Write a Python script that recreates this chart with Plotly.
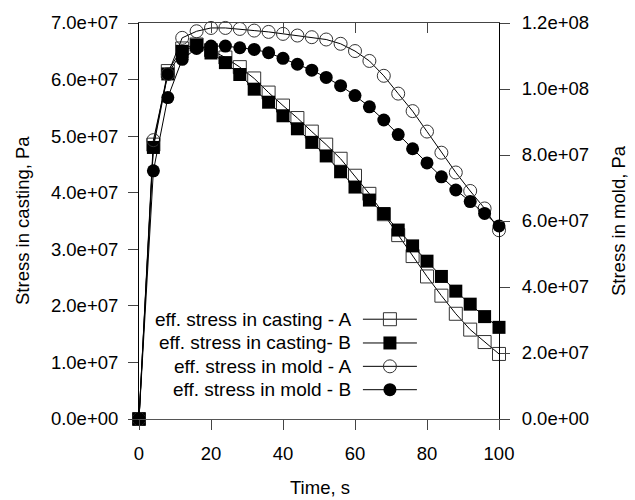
import plotly.graph_objects as go

# ---------------- data ----------------
time_s = [0, 4, 8, 12, 16, 20, 24, 28, 32, 36, 40, 44, 48, 52, 56, 60,
          64, 68, 72, 76, 80, 84, 88, 92, 96, 100]

# stresses in units of 1e7 Pa
casting_A = [0, 4.85, 6.15, 6.55, 6.62, 6.52, 6.39, 6.22, 6.02, 5.77, 5.54,
             5.32, 5.08, 4.85, 4.60, 4.30, 3.98, 3.62, 3.25, 2.88, 2.52,
             2.18, 1.86, 1.58, 1.36, 1.15]
casting_B = [0, 4.80, 6.10, 6.50, 6.61, 6.47, 6.30, 6.09, 5.83, 5.60, 5.36,
             5.13, 4.89, 4.65, 4.37, 4.10, 3.87, 3.63, 3.34, 3.06, 2.79,
             2.52, 2.26, 2.03, 1.81, 1.62]
mold_A = [0, 8.45, 10.45, 11.55, 11.75, 11.85, 11.85, 11.82, 11.77, 11.73,
          11.67, 11.62, 11.57, 11.50, 11.37, 11.15, 10.85, 10.40, 9.86, 9.33,
          8.71, 8.07, 7.47, 6.91, 6.38, 5.72]
mold_B = [0, 7.52, 9.74, 10.90, 11.23, 11.30, 11.30, 11.25, 11.20, 11.10,
          10.93, 10.75, 10.57, 10.35, 10.10, 9.80, 9.46, 9.06, 8.62, 8.19,
          7.76, 7.34, 6.94, 6.59, 6.23, 5.85]
SCALE = 1e7

series_names = ["eff. stress in casting - A", "eff. stress in casting- B",
                "eff. stress in mold - A", "eff. stress in mold - B"]

x_ticks = [0, 20, 40, 60, 80, 100]
x_top_ticks = [20, 40, 60, 80]
left_tickvals = [0, 1e7, 2e7, 3e7, 4e7, 5e7, 6e7, 7e7]
left_ticktext = ["0.0e+00", "1.0e+07", "2.0e+07", "3.0e+07", "4.0e+07",
                 "5.0e+07", "6.0e+07", "7.0e+07"]
right_tickvals = [0, 2e7, 4e7, 6e7, 8e7, 1e8, 1.2e8]
right_ticktext = ["0.0e+00", "2.0e+07", "4.0e+07", "6.0e+07", "8.0e+07",
                  "1.0e+08", "1.2e+08"]

# ---------------- styles ----------------
FONT = "Liberation Sans, Arial, Helvetica, sans-serif"
MS = 13
styles = [
    dict(symbol="square-open", size=MS, color="#333333", line=dict(width=1, color="#333333")),
    dict(symbol="square", size=MS, color="black", line=dict(width=0)),
    dict(symbol="circle-open", size=MS, color="#333333", line=dict(width=1, color="#333333")),
    dict(symbol="circle", size=MS, color="black", line=dict(width=0)),
]
ys = [[v * SCALE for v in casting_A], [v * SCALE for v in casting_B],
      [v * SCALE for v in mold_A], [v * SCALE for v in mold_B]]
yaxes = ["y", "y", "y2", "y2"]

fig = go.Figure()
for name, yv, st, ya in zip(series_names, ys, styles, yaxes):
    fig.add_trace(go.Scatter(
        x=time_s, y=yv, name=name, mode="lines+markers",
        line=dict(color="black", width=1), marker=st,
        xaxis="x", yaxis=ya, cliponaxis=False, showlegend=False))

# invisible trace to materialise the top axis
fig.add_trace(go.Scatter(x=[0, 100], y=[0, 0], xaxis="x2", yaxis="y",
                         mode="markers", marker=dict(opacity=0),
                         showlegend=False, hoverinfo="skip"))

# hand-made legend (symbols to the right of the text)
leg_rows = [0.252, 0.192, 0.133, 0.074]
leg_line_x = [0.622, 0.772]
leg_mark_x = 0.697
leg_text_x = 0.594
for name, st, yr in zip(series_names, styles, leg_rows):
    fig.add_trace(go.Scatter(x=leg_line_x, y=[yr, yr], xaxis="x3", yaxis="y3",
                             mode="lines", line=dict(color="black", width=1),
                             showlegend=False, hoverinfo="skip", cliponaxis=False))
    fig.add_trace(go.Scatter(x=[leg_mark_x], y=[yr], xaxis="x3", yaxis="y3",
                             mode="markers", marker=st,
                             showlegend=False, hoverinfo="skip", cliponaxis=False))
    fig.add_annotation(x=leg_text_x, y=yr, xref="paper", yref="paper",
                       text=name, showarrow=False, xanchor="right",
                       yanchor="middle", font=dict(size=19, color="black", family=FONT))

# axis titles
fig.add_annotation(x=-0.325, y=0.5, xref="paper", yref="paper",
                   text="Stress in casting, Pa", textangle=-90, showarrow=False,
                   xanchor="center", yanchor="middle",
                   font=dict(size=18.5, color="black", family=FONT))
fig.add_annotation(x=1.3306, y=0.5, xref="paper", yref="paper",
                   text="Stress in mold, Pa", textangle=-90, showarrow=False,
                   xanchor="center", yanchor="middle",
                   font=dict(size=18.5, color="black", family=FONT))
fig.add_annotation(x=0.503, y=-0.173, xref="paper", yref="paper",
                   text="Time, s", showarrow=False,
                   xanchor="center", yanchor="middle",
                   font=dict(size=18.5, color="black", family=FONT))

tickfont = dict(size=18.5, color="black", family=FONT)
fig.update_layout(
    width=635, height=500,
    margin=dict(l=139, r=136, t=20, b=81),
    paper_bgcolor="white", plot_bgcolor="white",
    font=dict(family=FONT, color="black"),
    xaxis=dict(range=[0, 100], tickvals=x_ticks, ticks="outside", ticklen=10,
               tickcolor="#444", showline=True, linecolor="#555", linewidth=1,
               showgrid=False, zeroline=False, tickfont=tickfont,
               ticklabelstandoff=8),
    xaxis2=dict(range=[0, 100], overlaying="x", side="top", anchor="y",
                tickvals=x_top_ticks, ticks="inside", ticklen=10, tickcolor="#444",
                showticklabels=False, showline=True, linecolor="#444",
                linewidth=1, showgrid=False, zeroline=False),
    yaxis=dict(range=[0, 7e7], tickvals=left_tickvals, ticktext=left_ticktext,
               ticks="outside", ticklen=10, tickcolor="#444", showline=True,
               linecolor="black", linewidth=1, showgrid=False, zeroline=False,
               tickfont=tickfont, ticklabelstandoff=6),
    yaxis2=dict(range=[0, 1.2e8], overlaying="y", side="right", anchor="x",
                tickvals=right_tickvals, ticktext=right_ticktext,
                ticks="outside", ticklen=10, tickcolor="#444", showline=True,
                linecolor="black", linewidth=1, showgrid=False, zeroline=False,
                tickfont=tickfont, ticklabelstandoff=8),
    xaxis3=dict(range=[0, 1], overlaying="x", anchor="y3", visible=False),
    yaxis3=dict(range=[0, 1], overlaying="y", anchor="x3", visible=False),
    showlegend=False,
)

fig.write_html("out.html", config={"displayModeBar": False},
               post_script="document.body.style.margin='0';")
